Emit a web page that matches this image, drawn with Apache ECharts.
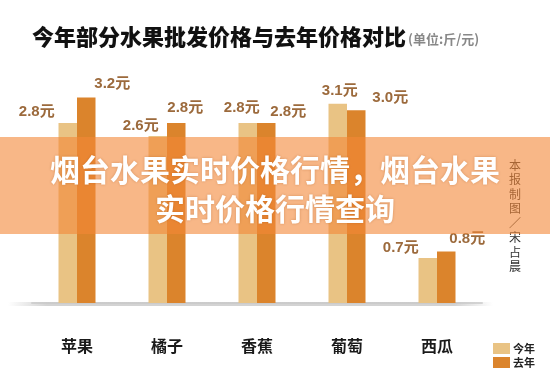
<!DOCTYPE html>
<html><head><meta charset="utf-8">
<script src="https://cdn.jsdelivr.net/npm/echarts@6/dist/echarts.min.js"></script>
<style>html,body{margin:0;padding:0;background:#fff}#c{width:550px;height:373px}</style>
</head><body><div id="c"></div>
<script>
const categories = ['苹果', '橘子', '香蕉', '葡萄', '西瓜'];
const thisYear = [2.8, 2.6, 2.8, 3.1, 0.7];
const lastYear = [3.2, 2.8, 2.8, 3.0, 0.8];
const seriesNames = ['今年', '去年'];
const unitSuffix = '元';
const titleText = '今年部分水果批发价格与去年价格对比';
const unitText = '(单位:斤/元)';
const bannerLines = ['烟台水果实时价格行情，烟台水果', '实时价格行情查询'];
const creditText = '本报制图／宋占晨';

// label layout (style only)
const thisYearLabelShift = [[-31, 1], [-17, 2], [-6, -3], [2, 0], [-27, 2]];
const lastYearLabelShift = [[26, -1], [9, -3], [22, 1], [34, 0], [21, 0]];

const labelStyle = {
  show: true, position: 'top', fontSize: 15, fontWeight: 'bold',
  color: '#9c6a3c', fontFamily: 'Liberation Sans, Noto Sans CJK SC',
  formatter: p => p.value.toFixed(1) + unitSuffix
};
function mk(vals, shifts) {
  return vals.map((v, i) => ({ value: v, label: { offset: shifts[i] } }));
}

const chart = echarts.init(document.getElementById('c'));
chart.setOption({
  backgroundColor: '#fff',
  animation: false,
  title: {
    left: 27, top: 21,
    text: '{a|' + titleText + '}{b|' + unitText + '}',
    textStyle: {
      rich: {
        a: { fontSize: 22, fontWeight: 900, color: '#111', fontFamily: 'Noto Sans CJK SC' },
        b: { fontSize: 13, color: '#888', fontFamily: 'Noto Sans CJK SC', padding: [4, 0, 0, 2] }
      }
    }
  },
  legend: {
    orient: 'vertical', left: 488, top: 338,
    itemWidth: 17, itemHeight: 11, itemGap: 3,
    icon: 'rect',
    textStyle: { fontSize: 11, fontWeight: 'bold', color: '#222', fontFamily: 'Noto Sans CJK SC', padding: [0, 0, 0, -2] },
    data: seriesNames
  },
  grid: { left: 32, width: 450, top: 46, height: 257 },
  xAxis: {
    type: 'category', data: categories,
    axisLine: { show: true, lineStyle: { color: '#d8d8d8', width: 2 } },
    axisTick: { show: false },
    axisLabel: { margin: 35, fontSize: 16, fontWeight: 'bold', color: '#1a1a1a', fontFamily: 'Noto Sans CJK SC' }
  },
  yAxis: {
    type: 'value', min: 0, max: 4, interval: 1,
    show: false, splitLine: { show: false }
  },
  graphic: [
    {
      type: 'rect', z: 1,
      shape: { x: 8, y: 302, width: 485, height: 4 },
      style: {
        fill: new echarts.graphic.LinearGradient(0, 0, 1, 0, [
          { offset: 0, color: 'rgba(200,200,200,0)' },
          { offset: 0.08, color: 'rgba(200,200,200,0.8)' },
          { offset: 0.92, color: 'rgba(200,200,200,0.8)' },
          { offset: 1, color: 'rgba(200,200,200,0)' }
        ])
      }
    },
    {
      type: 'text', z: 50, left: 509, top: 158,
      style: {
        text: creditText.split('').join('\n'),
        fontSize: 12, lineHeight: 14.5, fill: '#333',
        fontFamily: 'Noto Sans CJK SC', align: 'center'
      }
    },
    {
      type: 'rect', z: 100,
      shape: { x: 0, y: 137, width: 550, height: 97 },
      style: { fill: 'rgba(244,135,55,0.6)' }
    },
    {
      type: 'text', z: 101, left: 'center', top: 155,
      style: {
        text: bannerLines[0],
        fontSize: 30, fontWeight: 'bold', fill: '#fff',
        fontFamily: 'Noto Sans CJK SC',
        textShadowColor: 'rgba(150,70,10,0.35)', textShadowBlur: 3
      }
    },
    {
      type: 'text', z: 101, left: 'center', top: 194,
      style: {
        text: bannerLines[1],
        fontSize: 30, fontWeight: 'bold', fill: '#fff',
        fontFamily: 'Noto Sans CJK SC',
        textShadowColor: 'rgba(150,70,10,0.35)', textShadowBlur: 3
      }
    }
  ],
  series: [
    {
      name: seriesNames[0], type: 'bar', barWidth: 18.5, barGap: '0%',
      itemStyle: { color: '#e9c384' },
      label: labelStyle,
      data: mk(thisYear, thisYearLabelShift)
    },
    {
      name: seriesNames[1], type: 'bar', barWidth: 18.5, barGap: '0%',
      itemStyle: { color: '#db842c' },
      label: labelStyle,
      data: mk(lastYear, lastYearLabelShift)
    }
  ]
});
</script>
</body></html>
